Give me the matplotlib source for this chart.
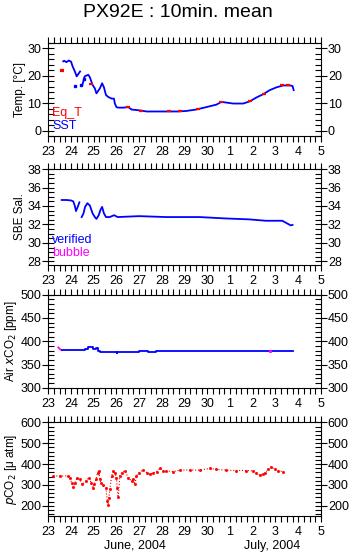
import numpy as np
import matplotlib
matplotlib.use("Agg")
import matplotlib.pyplot as plt
from matplotlib.ticker import MultipleLocator

plt.rcParams['font.family'] = ['Liberation Sans', 'DejaVu Sans']

# dias contados a partir de 0 de junho (1 de julho = 31)
day_ticks = list(range(23, 36))
day_labels = ['23', '24', '25', '26', '27', '28', '29', '30', '1', '2', '3', '4', '5']

# Temperatura (SST em azul, Eq_T em vermelho)
sst_day = [23.66, 23.70, 23.80, 23.90, 24.00, 24.07, 24.17, 24.25, 24.40, np.nan,
           24.50, 24.60, 24.76, 24.83, 24.95, 25.05, 25.12, 25.27, 25.37, 25.45,
           25.54, 25.64, 25.79, 25.89, 25.93, 26.00, 26.08, 26.30, 26.52,
           26.67, 27.03, 27.33, 27.80, 28.20, 28.70, 29.08, 29.50, 29.96, 30.40,
           30.62, 31.14, 31.58, 31.87, 32.16, 32.46, 32.75, 33.04, 33.34, 33.63,
           33.75, 33.80]
sst_temp = [25.3, 25.5, 25.0, 25.6, 25.2, 23.5, 21.6, 19.8, 21.6, np.nan,
            16.7, 19.8, 20.4, 19.5, 16.7, 15.4, 13.6, 15.4, 17.3, 15.8,
            13.0, 12.3, 11.7, 11.7, 9.9, 8.6, 8.4, 8.4, 8.6,
            7.7, 7.4, 7.0, 7.0, 7.0, 7.0, 7.2, 7.7, 8.6, 9.5,
            10.5, 9.9, 9.9, 10.7, 12.1, 13.3, 14.8, 15.8, 16.5, 16.5,
            16.3, 14.8]
sst_dot_day = [24.17, 24.45, 24.58]
sst_dot_temp = [16.3, 16.7, 19.0]

eqt_day = [23.59, 23.60, 24.90, 26.52, 27.10, 28.30, 28.80, 29.60, 30.62, 31.90,
           32.48, 33.30, 33.55]
eqt_temp = [21.8, 22.3, 17.2, 8.6, 7.3, 7.0, 7.0, 7.8, 10.5, 10.8,
            13.4, 16.5, 16.6]

# Salinidade SBE
sal_day = [23.59, 23.80, 24.00, 24.10, 24.17, 24.22, 24.28, 24.37, np.nan,
           24.47, 24.55, 24.62, 24.72, 24.83, 24.95, 25.05, 25.12, 25.22,
           25.30, 25.37, 25.45, 25.54, 25.70, 25.90, 26.05, 27.00, 28.20,
           29.66, 30.80, 31.84, 32.57, 33.30, 33.52, 33.67, 33.75]
sal_val = [34.65, 34.65, 34.60, 34.50, 34.00, 33.45, 33.80, 34.40, np.nan,
           32.80, 33.20, 33.90, 34.30, 34.05, 33.20, 32.80, 32.60, 33.00,
           33.60, 33.90, 33.20, 32.80, 32.80, 33.00, 32.80, 32.90, 32.80,
           32.80, 32.65, 32.55, 32.40, 32.40, 32.10, 31.90, 31.95]

# Air xCO2
air_day = [23.59, 24.00, 24.61, 24.76, 24.90, 24.99, 25.10, 25.17, 25.27,
           26.00, 26.01, 26.02, 26.70, 26.85, 27.00, 27.05, 27.40, 27.75,
           27.90, 28.20, 29.00, 31.00, 32.75, 33.75]
air_val = [381, 381, 383, 387, 387, 383, 385, 380, 376.6,
           376.6, 374, 376.6, 376.6, 377, 380, 379, 376.6, 378,
           380, 378.6, 378.6, 378.6, 378.6, 378.6]
bub_day = [23.44, 23.51, 23.59]
bub_val = [386.6, 383, 381]
bub_dot_day = [32.75]
bub_dot_val = [378.6]

# pCO2
pco2_day = [23.22, 23.50, 23.88, 23.95, 24.03, 24.10, 24.17, 24.27, 24.38,
            24.50, 24.65, 24.80, 24.88, 24.95, 25.02, 25.10, 25.17, 25.22,
            25.27, 25.31, 25.41, 25.54, 25.60, 25.64, 25.67, 25.71, 25.79,
            25.86, 25.93, 26.00, 26.03, 26.08, 26.15, 26.23, 26.37, 26.52,
            26.67, 26.74, 26.81, 26.88, 27.00, 27.17, 27.33, 27.48, 27.63,
            27.77, 27.92, 28.06, 28.20, 28.50, 28.80, 29.23, 29.67, 30.11,
            30.40, 30.84, 31.28, 31.72, 32.01, 32.16, 32.30, 32.45, 32.56,
            32.67, 32.81, 32.96, 33.10, 33.32]
pco2_val = [343, 343, 343, 332, 310, 289, 310, 332, 327,
            302, 319, 335, 310, 286, 302, 327, 359, 367,
            327, 310, 299, 283, 221, 205, 237, 278, 343,
            367, 359, 332, 286, 240, 343, 359, 367, 335,
            319, 330, 302, 343, 359, 372, 359, 351, 359,
            364, 380, 367, 367, 364, 371, 371, 371, 379,
            374, 371, 369, 369, 367, 359, 348, 351, 359,
            375, 387, 375, 367, 364]


def style_axis(ax, ylim, ymajor, yminor):
    ax.set_xlim(23, 35)
    ax.set_ylim(*ylim)
    ax.set_xticks(day_ticks)
    ax.set_xticklabels(day_labels)
    ax.xaxis.set_minor_locator(MultipleLocator(0.25))
    ax.yaxis.set_major_locator(MultipleLocator(ymajor))
    ax.yaxis.set_minor_locator(MultipleLocator(yminor))
    ax.tick_params(which='both', top=True, right=True, labelright=True,
                   labelsize=9, width=0.8)
    ax.tick_params(axis='x', which='both', direction='out', length=4, pad=3)
    ax.tick_params(axis='y', which='major', direction='inout', length=8, pad=1)
    ax.tick_params(axis='y', which='minor', direction='in', length=4)
    for s in ax.spines.values():
        s.set_linewidth(0.8)


fig = plt.figure(figsize=(3.55, 5.58), dpi=100)
W = 0.768
L = 0.136

# Painel 1 - temperatura
ax1 = fig.add_axes([L, 0.756, W, 0.167])
ax1.plot(sst_day, sst_temp, color='blue', lw=1.3)
ax1.plot(sst_dot_day, sst_dot_temp, 's', color='blue', ms=1.5, ls='none')
ax1.plot(eqt_day, eqt_temp, '_', color='red', ms=3.5, mew=1.6, ls='none')
style_axis(ax1, (-2, 32), 10, 2)
ax1.set_ylabel('Temp. [°C]', fontsize=8.5, labelpad=1)
ax1.text(0.015, 0.25, 'Eq_T', color='red', fontsize=9, transform=ax1.transAxes, va='center')
ax1.text(0.015, 0.105, 'SST', color='blue', fontsize=9, transform=ax1.transAxes, va='center')

# Painel 2 - salinidade
ax2 = fig.add_axes([L, 0.525, W, 0.172])
ax2.plot(sal_day, sal_val, color='blue', lw=1.3)
style_axis(ax2, (27.6, 38), 2, 0.5)
ax2.set_ylabel('SBE Sal.', fontsize=8.5, labelpad=1)
ax2.text(0.015, 0.26, 'verified', color='blue', fontsize=9, transform=ax2.transAxes, va='center')
ax2.text(0.015, 0.125, 'bubble', color='magenta', fontsize=9, transform=ax2.transAxes, va='center')

# Painel 3 - xCO2 do ar
ax3 = fig.add_axes([L, 0.305, W, 0.167])
ax3.plot(bub_day, bub_val, color='magenta', lw=1.3)
ax3.plot(air_day, air_val, color='blue', lw=1.3, drawstyle='steps-post')
ax3.plot(bub_dot_day, bub_dot_val, 's', color='magenta', ms=1.2, ls='none')
style_axis(ax3, (300, 500), 50, 10)
ax3.set_ylabel('Air $x$CO$_2$ [ppm]', fontsize=8.5, labelpad=1)

# Painel 4 - pCO2
ax4 = fig.add_axes([L, 0.075, W, 0.168])
ax4.plot(pco2_day, pco2_val, color='red', lw=0.8, ls=':', marker='s', ms=1.0)
style_axis(ax4, (150, 600), 100, 20)
ax4.set_ylabel('$p$CO$_2$ [μ atm]', fontsize=8.5, labelpad=1)

fig.text(0.5, 0.978, 'PX92E : 10min. mean', ha='center', va='center', fontsize=14)
fig.text(0.38, 0.022, 'June, 2004', ha='center', va='center', fontsize=9)
fig.text(0.766, 0.022, 'July, 2004', ha='center', va='center', fontsize=9)

fig.savefig('out.png', dpi=100)
